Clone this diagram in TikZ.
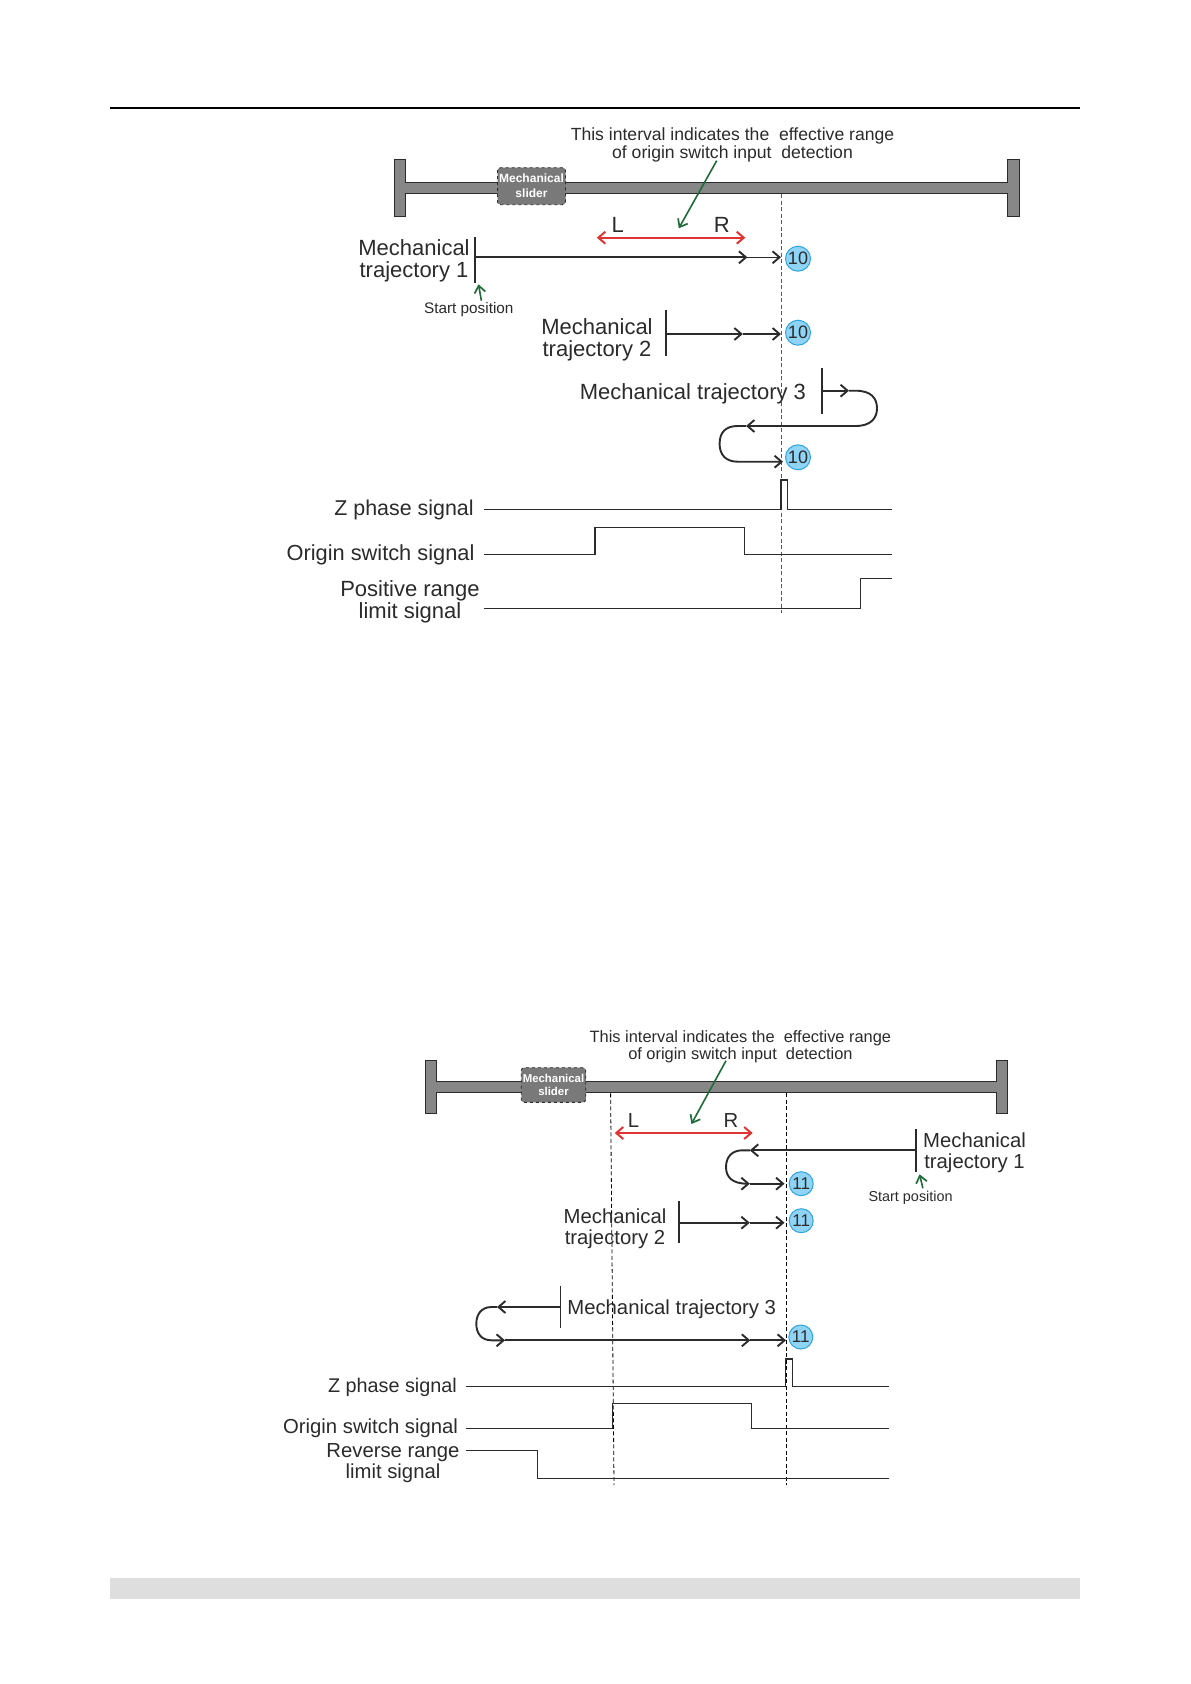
\documentclass[tikz,border=0pt]{standalone}
\usepackage{fontspec}
\setmainfont{Liberation Sans}
\usetikzlibrary{arrows.meta}
\definecolor{railgray}{HTML}{878787}
\definecolor{inkgray}{HTML}{2B2B2B}
\definecolor{pastblue}{HTML}{8FD3F5}
\definecolor{rimblue}{HTML}{2FA5E0}
\definecolor{arrowgreen}{HTML}{1F6B3A}
\definecolor{arrowred}{HTML}{E03434}
\tikzset{
    lbl/.style={inner sep=0pt,align=center,text=inkgray,yshift=-2pt,font=\fontsize{22}{22.3}\selectfont},
    lblb/.style={lbl,font=\fontsize{20.3}{21}\selectfont},
    note/.style={lbl,font=\fontsize{17.6}{17.7}\selectfont},
    noteb/.style={lbl,font=\fontsize{15.3}{17}\selectfont},
    rail/.style={fill=railgray,draw=inkgray,line width=0.8pt},
    slider/.style={fill=railgray!90!black,draw=inkgray,dashed,line width=0.9pt,rounded corners=3pt,
        inner sep=0pt,align=center,text=white},
    traj/.style={draw=inkgray,line width=1.9pt,-{Straight Barb[length=7pt,width=12pt,line width=1.9pt]}},
    tick/.style={draw=inkgray,line width=1.7pt},
    sig/.style={draw=inkgray,line width=1.3pt},
    guide/.style={draw=inkgray,line width=0.8pt,dash pattern=on 4pt off 2.5pt},
    point/.style={circle,fill=pastblue,draw=rimblue,line width=1pt,inner sep=0pt,text=inkgray},
    greenarrow/.style={draw=arrowgreen,line width=1.6pt,-{Straight Barb[length=7pt,width=11pt,line width=1.7pt]}},
    redarrow/.style={draw=arrowred,line width=2.2pt,{Straight Barb[length=7pt,width=12pt,line width=2pt]}-{Straight Barb[length=7pt,width=12pt,line width=2pt]}},
}

\begin{document}
\begin{tikzpicture}[x=1pt,y=-1pt]
        \useasboundingbox (0,0) rectangle (1191,1684);
        \fill[white] (0,0) rectangle (1191,1684);

        % page rule and footer band
        \draw[black,line width=1.3pt] (110,108) -- (1080,108);
        \fill[black!13] (110,1578) rectangle (1080,1599);

        % ---- upper diagram ----
        \draw[rail] (394,159) -- (405.7,159) -- (405.7,182.3) -- (1007,182.3) -- (1007,159) -- (1019,159)
            -- (1019,216.7) -- (1007,216.7) -- (1007,193.7) -- (405.7,193.7) -- (405.7,216.7) -- (394,216.7) -- cycle;
        \node[slider,minimum width=68pt,minimum height=37pt,font=\bfseries\fontsize{12}{15}\selectfont] (sliderA) at (531.5,186.2) {Mechanical\\slider};
        \node[note] (noteA) at (732.5,143) {This interval indicates the~ effective range\\of origin switch input~ detection};

        \coordinate (guideAtop) at (781,194);
        \coordinate (guideAbot) at (781,613);
        \draw[guide,draw=black!65] (guideAtop) -- (guideAbot);

        \coordinate (greenAs) at (716.7,160.7);
        \coordinate (greenAe) at (678.8,228.3);
        \draw[greenarrow] (greenAs) -- (greenAe);

        \node[lbl] (leftA) at (617.8,223) {L};
        \node[lbl] (rightA) at (721.8,223) {R};
        \coordinate (redAl) at (596.8,237.7);
        \coordinate (redAr) at (745.3,237.7);
        \draw[redarrow] (redAl) -- (redAr);

        % trajectory 1
        \draw[tick] (475,237.3) coordinate (tA1t) -- (475,282.7) coordinate (tA1b);
        \coordinate (tA1s) at (475,257.3);
        \coordinate (tA1m) at (747.4,257.3);
        \coordinate (tA1e) at (781,257.3);
        \draw[traj] (tA1s) -- (tA1m);
        \draw[traj,line width=1.5pt] (tA1m) -- (tA1e);
        \node[lbl] (labA1) at (414,258.5) {Mechanical\\trajectory 1};
        \node[noteb] (startA) at (468.8,307.5) {Start position};
        \draw[greenarrow] (481.4,300.7) coordinate (grA1) -- (478.5,284.3) coordinate (grA2);

        % trajectory 2
        \draw[tick] (666.2,310) coordinate (tA2t) -- (666.2,355.7) coordinate (tA2b);
        \coordinate (tA2s) at (666.2,334);
        \coordinate (tA2m) at (742.8,334);
        \coordinate (tA2e) at (781,334);
        \draw[traj] (tA2s) -- (tA2m);
        \draw[traj] (tA2m) -- (tA2e);
        \node[lbl] (labA2) at (597,338) {Mechanical\\trajectory 2};

        % trajectory 3
        \draw[tick] (822,368) coordinate (tA3t) -- (822,413.7) coordinate (tA3b);
        \coordinate (tA3s) at (822,390.7);
        \coordinate (tA3m) at (849,390.7);
        \coordinate (tA3n) at (746,426);
        \coordinate (tA3e) at (783,461.7);
        \draw[traj] (tA3s) -- (tA3m);
        \draw[traj] (tA3m) -- (855.6,390.7) .. controls (871,390.7) and (877,398) .. (877,408.4)
            .. controls (877,418) and (871,426) .. (855.6,426) -- (tA3n);
        \draw[traj] (tA3n) -- (737.7,426) .. controls (726,426) and (719.6,432) .. (719.6,443.8)
            .. controls (719.6,455) and (726,461.7) .. (737.7,461.7) -- (tA3e);
        \node[lbl] (labA3) at (692.9,392) {Mechanical trajectory 3};

        % stop points
        \foreach \nm/\x/\y in {pA1/798/258.7,pA2/798/332.7,pA3/798/457.3}
                \node[point,minimum size=25pt,font=\fontsize{18}{18}\selectfont] (\nm) at (\x,\y) {10};

        % signals
        \draw[sig] (484,509.5) coordinate (zAs) -- (781,509.5) -- (781,480) -- (787.8,480) -- (787.8,509.5) -- (891.7,509.5) coordinate (zAe);
        \draw[sig] (484,554.3) coordinate (oAs) -- (595,554.3) -- (595,527.3) -- (744.4,527.3) -- (744.4,554.3) -- (891.7,554.3) coordinate (oAe);
        \draw[sig] (484,608.7) coordinate (lAs) -- (860.6,608.7) -- (860.6,578.3) -- (891.7,578.3) coordinate (lAe);
        \node[lbl,anchor=east,font=\fontsize{21.4}{22}\selectfont] (zlabA) at (473.8,508) {Z phase signal};
        \node[lbl,anchor=east,font=\fontsize{21.8}{22}\selectfont] (olabA) at (474.6,553) {Origin switch signal};
        \node[lbl] (llabA) at (410,600) {Positive range\\limit signal};

        % ---- lower diagram ----
        \draw[rail] (425.3,1060.3) -- (436.7,1060.3) -- (436.7,1081.3) -- (996,1081.3) -- (996,1060.3) -- (1007,1060.3)
            -- (1007,1113.3) -- (996,1113.3) -- (996,1092.7) -- (436.7,1092.7) -- (436.7,1113.3) -- (425.3,1113.3) -- cycle;
        \node[slider,minimum width=64.5pt,minimum height=34.6pt,font=\bfseries\fontsize{11.4}{13}\selectfont] (sliderB) at (553.5,1085) {Mechanical\\slider};
        \node[note,font=\fontsize{16.4}{17}\selectfont] (noteB) at (740.4,1045) {This interval indicates the~ effective range\\of origin switch input~ detection};

        \coordinate (guideBlt) at (610.6,1093.3);
        \coordinate (guideBlb) at (614,1485);
        \coordinate (guideBrt) at (786.5,1093.3);
        \coordinate (guideBrb) at (786.5,1485);
        \draw[guide,draw=black] (guideBlt) -- (guideBlb);
        \draw[guide,draw=black] (guideBrt) -- (guideBrb);

        \coordinate (greenBs) at (726,1060.7);
        \coordinate (greenBe) at (691.4,1124);
        \draw[greenarrow] (greenBs) -- (greenBe);

        \node[lblb] (leftB) at (633.5,1119) {L};
        \node[lblb] (rightB) at (731,1119) {R};
        \coordinate (redBl) at (614.7,1133);
        \coordinate (redBr) at (752.7,1133);
        \draw[redarrow] (redBl) -- (redBr);

        % trajectory 1
        \draw[tick] (916.3,1129.3) coordinate (tB1t) -- (916.3,1171.7) coordinate (tB1b);
        \coordinate (tB1s) at (916.3,1150.3);
        \coordinate (tB1m) at (749.8,1150.3);
        \coordinate (tB1n) at (749.8,1183.7);
        \coordinate (tB1e) at (784.5,1183.7);
        \draw[traj] (tB1s) -- (tB1m);
        \draw[traj] (tB1m) -- (742.4,1150.3) .. controls (732,1150.3) and (726,1157) .. (726,1167)
            .. controls (726,1177) and (732,1183.7) .. (tB1n);
        \draw[traj] (tB1n) -- (tB1e);
        \node[lblb] (labB1) at (974.5,1151) {Mechanical\\trajectory 1};
        \node[noteb,font=\fontsize{14.4}{14.4}\selectfont] (startB) at (910.6,1195.5) {Start position};
        \draw[greenarrow] (922.9,1188.3) coordinate (grB1) -- (919.6,1174.3) coordinate (grB2);

        % trajectory 2
        \draw[tick] (678.8,1201) coordinate (tB2t) -- (678.8,1242.7) coordinate (tB2b);
        \coordinate (tB2s) at (678.8,1222.7);
        \coordinate (tB2m) at (749.8,1222.7);
        \coordinate (tB2e) at (784.5,1222.7);
        \draw[traj] (tB2s) -- (tB2m);
        \draw[traj] (tB2m) -- (tB2e);
        \node[lblb] (labB2) at (615,1227) {Mechanical\\trajectory 2};

        % trajectory 3
        \draw[tick] (560.5,1286) coordinate (tB3t) -- (560.5,1328.3) coordinate (tB3b);
        \coordinate (tB3s) at (560.5,1307);
        \coordinate (tB3m) at (497,1307);
        \coordinate (tB3n) at (505,1340.3);
        \coordinate (tB3o) at (750.3,1340.3);
        \coordinate (tB3e) at (786,1340.3);
        \draw[traj] (tB3s) -- (tB3m);
        \draw[traj] (tB3m) -- (491.5,1307) .. controls (481,1307) and (476.3,1315) .. (476.3,1323.6)
            .. controls (476.3,1333) and (481,1340.3) .. (491.5,1340.3) -- (tB3n);
        \draw[traj] (tB3n) -- (tB3o);
        \draw[traj] (tB3o) -- (tB3e);
        \node[lblb] (labB3) at (671.7,1307) {Mechanical trajectory 3};

        % stop points
        \foreach \nm/\x/\y in {pB1/801.2/1183.7,pB2/801.2/1220.7,pB3/800.8/1337}
                \node[point,minimum size=24pt,font=\fontsize{17}{17}\selectfont] (\nm) at (\x,\y) {11};

        % signals
        \draw[sig] (466.2,1386.7) coordinate (zBs) -- (785.7,1386.7) -- (785.7,1359) -- (792.4,1359) -- (792.4,1386.7) -- (888.8,1386.7) coordinate (zBe);
        \draw[sig] (466.2,1428.3) coordinate (oBs) -- (612.3,1428.3) -- (612.3,1403.3) -- (751.6,1403.3) -- (751.6,1428.3) -- (888.8,1428.3) coordinate (oBe);
        \draw[sig] (466.2,1450.3) coordinate (lBs) -- (537.4,1450.3) -- (537.4,1478.7) -- (888.8,1478.7) coordinate (lBe);
        \node[lblb,anchor=east,font=\fontsize{19.8}{21}\selectfont] (zlabB) at (457,1385.7) {Z phase signal};
        \node[lblb,anchor=east] (olabB) at (458.2,1426.7) {Origin switch signal};
        \node[lblb] (llabB) at (393,1461) {Reverse range\\limit signal};
\end{tikzpicture}
\end{document}
